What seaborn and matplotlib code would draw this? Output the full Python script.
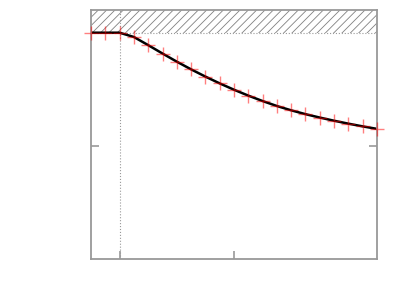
import numpy as np
import pandas as pd
import matplotlib
matplotlib.use("Agg")
import matplotlib.pyplot as plt
import seaborn as sbrn

# values
x_vals = [0.0, 0.05, 0.1, 0.15, 0.2, 0.25, 0.3, 0.35, 0.4, 0.45, 0.5,
          0.55, 0.6, 0.65, 0.7, 0.75, 0.8, 0.85, 0.9, 0.95, 1.0]
y_vals = [1.0, 1.0, 1.0, 0.981, 0.945, 0.908, 0.872, 0.838, 0.806, 0.776, 0.748,
          0.722, 0.698, 0.676, 0.657, 0.640, 0.625, 0.611, 0.598, 0.586, 0.575]
x_ticks = [0.1, 0.5]
y_ticks = [0.5]
limit = 1.0
x_mark = 0.1

data = pd.DataFrame({'x': x_vals, 'y': y_vals})

sbrn.set_style("white")
plt.rcParams['hatch.linewidth'] = 0.6
fgr = plt.figure(figsize=(4.15, 2.91), dpi=100)
ax = fgr.add_axes([0.2193, 0.110, 0.6891, 0.8554])

ax.fill_between([0, 1], limit, 1.1, facecolor='none', edgecolor='#808080',
                hatch='////', linewidth=0)
ax.axhline(limit, color='#999999', linestyle=':', linewidth=0.8)
ax.axvline(x_mark, color='#999999', linestyle=':', linewidth=0.8)

sbrn.lineplot(x='x', y='y', data=data, color='black', linewidth=1.8, ax=ax)
sbrn.scatterplot(x='x', y='y', data=data, marker='+', color='red', s=110,
                 alpha=0.5, linewidth=1.0, ax=ax, zorder=5, clip_on=False)

ax.set_xlim(0, 1)
ax.set_ylim(0, 1.1)
ax.set_xticks(x_ticks)
ax.set_yticks(y_ticks)
ax.set_xticklabels([])
ax.set_yticklabels([])
ax.set_xlabel("")
ax.set_ylabel("")
ax.tick_params(direction='in', length=6, width=1.2, color='#999999',
               bottom=True, left=True, right=True, top=False)
for s in ax.spines.values():
    s.set_visible(True)
    s.set_color('#999999')
    s.set_linewidth(1.3)

plt.savefig("out.png", dpi=100)
